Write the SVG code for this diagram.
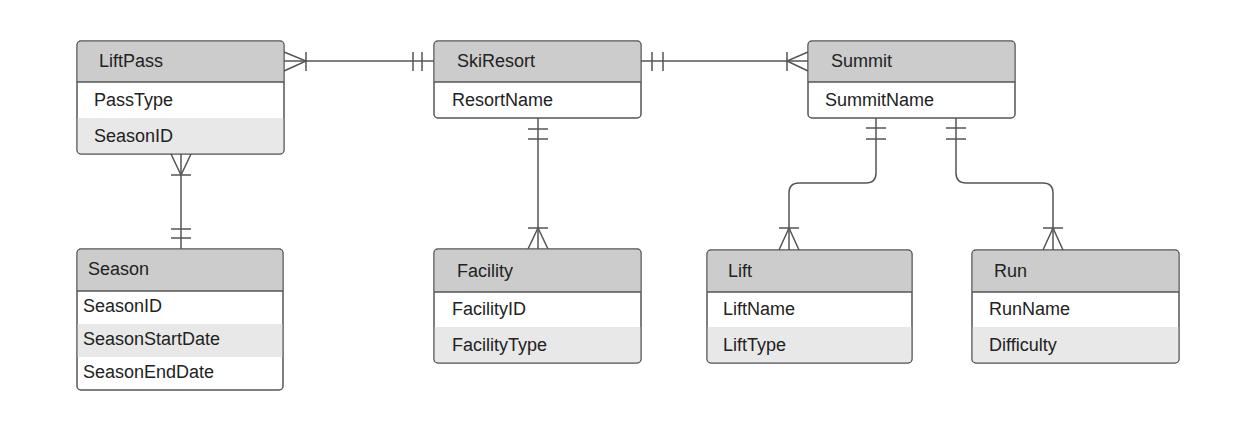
<svg xmlns="http://www.w3.org/2000/svg" width="1246" height="422" viewBox="0 0 1246 422">
<style>
.box{fill:#ffffff;stroke:#555;stroke-width:1.5}
.hdr{fill:#cccccc}
.alt{fill:#e8e8e8}
.sep{stroke:#555;stroke-width:1.5}
.t{font-family:"Liberation Sans",Arial,sans-serif;font-size:18px;fill:#222}
.c{fill:none;stroke:#555;stroke-width:1.5}
</style>
<rect width="1246" height="422" fill="#ffffff"/>
<g id="connectors">
  <!-- LiftPass - SkiResort -->
  <path class="c" d="M284,61 H434"/>
  <path class="c" d="M284,52 L306,61 L284,71 M306,52 V71"/>
  <path class="c" d="M413,52 V71 M422,52 V71"/>
  <!-- SkiResort - Summit -->
  <path class="c" d="M641,61 H808"/>
  <path class="c" d="M652,52 V71 M663,52 V71"/>
  <path class="c" d="M808,52 L787,61 L808,71 M787,52 V71"/>
  <!-- LiftPass - Season -->
  <path class="c" d="M181,154 V249"/>
  <path class="c" d="M171,154 L181,175 L191,154 M171,175 H191"/>
  <path class="c" d="M171,229 H191 M171,238 H191"/>
  <!-- SkiResort - Facility -->
  <path class="c" d="M538,118 V249"/>
  <path class="c" d="M528,129 H548 M528,139 H548"/>
  <path class="c" d="M528,228 H548 M528,249 L538,228 L548,249"/>
  <!-- Summit - Lift -->
  <path class="c" d="M876,118 V173 Q876,183 866,183 H799 Q789,183 789,193 V250"/>
  <path class="c" d="M866,128 H886 M866,139 H886"/>
  <path class="c" d="M779,228 H799 M779,250 L789,228 L799,250"/>
  <!-- Summit - Run -->
  <path class="c" d="M956,118 V173 Q956,183 966,183 H1043 Q1053,183 1053,193 V250"/>
  <path class="c" d="M946,128 H966 M946,139 H966"/>
  <path class="c" d="M1043,228 H1063 M1043,250 L1053,228 L1063,250"/>
</g>
<g id="LiftPass">
  <rect class="box" x="77" y="41" width="207" height="113" rx="4"/>
  <path class="hdr" d="M81,41.75 H280 Q283.25,41.75 283.25,45 V82 H77.75 V45 Q77.75,41.75 81,41.75 Z"/>
  <path class="alt" d="M77.75,118 H283.25 V150 Q283.25,153.25 280,153.25 H81 Q77.75,153.25 77.75,150 Z"/>
  <line class="sep" x1="77" y1="82" x2="284" y2="82"/>
  <text class="t" x="99" y="67">LiftPass</text>
  <text class="t" x="94" y="106">PassType</text>
  <text class="t" x="94" y="142">SeasonID</text>
</g>
<g id="SkiResort">
  <rect class="box" x="434" y="41" width="207" height="77" rx="4"/>
  <path class="hdr" d="M438,41.75 H637 Q640.25,41.75 640.25,45 V82 H434.75 V45 Q434.75,41.75 438,41.75 Z"/>
  <line class="sep" x1="434" y1="82" x2="641" y2="82"/>
  <text class="t" x="457" y="67">SkiResort</text>
  <text class="t" x="452" y="106">ResortName</text>
</g>
<g id="Summit">
  <rect class="box" x="808" y="41" width="207" height="77" rx="4"/>
  <path class="hdr" d="M812,41.75 H1011 Q1014.25,41.75 1014.25,45 V82 H808.75 V45 Q808.75,41.75 812,41.75 Z"/>
  <line class="sep" x1="808" y1="82" x2="1015" y2="82"/>
  <text class="t" x="831" y="67">Summit</text>
  <text class="t" x="825" y="106">SummitName</text>
</g>
<g id="Season">
  <rect class="box" x="77" y="249" width="206" height="141" rx="4"/>
  <path class="hdr" d="M81,249.75 H279 Q282.25,249.75 282.25,253 V291 H77.75 V253 Q77.75,249.75 81,249.75 Z"/>
  <rect class="alt" x="77.75" y="324" width="204.5" height="33"/>
  <line class="sep" x1="77" y1="291" x2="283" y2="291"/>
  <text class="t" x="88" y="275">Season</text>
  <text class="t" x="83" y="312">SeasonID</text>
  <text class="t" x="83" y="345">SeasonStartDate</text>
  <text class="t" x="83" y="378">SeasonEndDate</text>
</g>
<g id="Facility">
  <rect class="box" x="434" y="249" width="207" height="114" rx="4"/>
  <path class="hdr" d="M438,249.75 H637 Q640.25,249.75 640.25,253 V292 H434.75 V253 Q434.75,249.75 438,249.75 Z"/>
  <path class="alt" d="M434.75,327 H640.25 V359 Q640.25,362.25 637,362.25 H438 Q434.75,362.25 434.75,359 Z"/>
  <line class="sep" x1="434" y1="292" x2="641" y2="292"/>
  <text class="t" x="457" y="277">Facility</text>
  <text class="t" x="452" y="315">FacilityID</text>
  <text class="t" x="452" y="351">FacilityType</text>
</g>
<g id="Lift">
  <rect class="box" x="707" y="250" width="205" height="113" rx="4"/>
  <path class="hdr" d="M711,250.75 H908 Q911.25,250.75 911.25,254 V292 H707.75 V254 Q707.75,250.75 711,250.75 Z"/>
  <path class="alt" d="M707.75,327 H911.25 V359 Q911.25,362.25 908,362.25 H711 Q707.75,362.25 707.75,359 Z"/>
  <line class="sep" x1="707" y1="292" x2="912" y2="292"/>
  <text class="t" x="728" y="277">Lift</text>
  <text class="t" x="723" y="315">LiftName</text>
  <text class="t" x="723" y="351">LiftType</text>
</g>
<g id="Run">
  <rect class="box" x="972" y="250" width="207" height="113" rx="4"/>
  <path class="hdr" d="M976,250.75 H1175 Q1178.25,250.75 1178.25,254 V292 H972.75 V254 Q972.75,250.75 976,250.75 Z"/>
  <path class="alt" d="M972.75,327 H1178.25 V359 Q1178.25,362.25 1175,362.25 H976 Q972.75,362.25 972.75,359 Z"/>
  <line class="sep" x1="972" y1="292" x2="1179" y2="292"/>
  <text class="t" x="994" y="277">Run</text>
  <text class="t" x="989" y="315">RunName</text>
  <text class="t" x="989" y="351">Difficulty</text>
</g>
</svg>
